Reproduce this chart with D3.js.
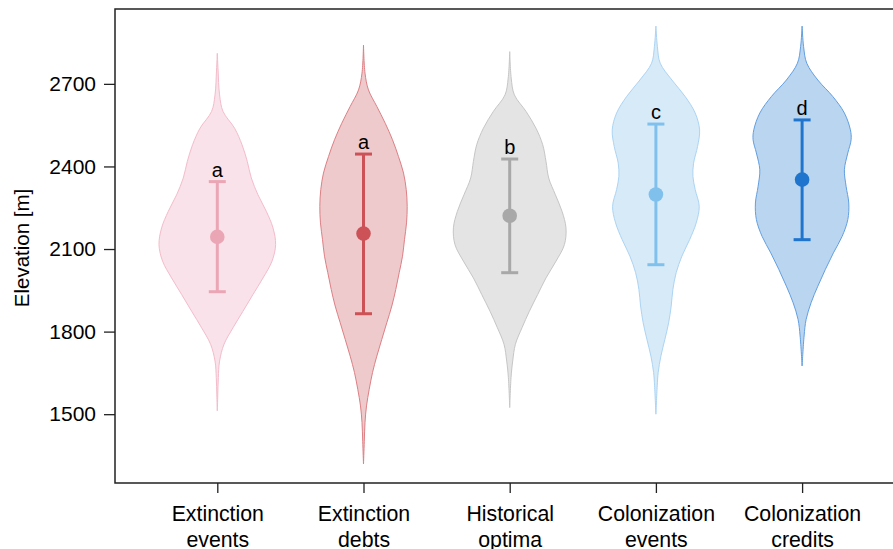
<!DOCTYPE html>
<html>
<head>
<meta charset="utf-8">
<script src="https://cdn.jsdelivr.net/npm/d3@7/dist/d3.min.js"></script>
<style>
  html, body { margin: 0; padding: 0; background: #fff; }
  svg { display: block; font-family: "Liberation Sans", Arial, Helvetica, sans-serif; }
</style>
</head>
<body>
<svg id="chart" width="893" height="549"></svg>
<script>
// ---------- data ----------
const categories = ["Extinction events", "Extinction debts", "Historical optima", "Colonization events", "Colonization credits"];
const categoryLines = [["Extinction", "events"], ["Extinction", "debts"], ["Historical", "optima"], ["Colonization", "events"], ["Colonization", "credits"]];
const letters = ["a", "a", "b", "c", "d"];
const means = [2144, 2156, 2221, 2298, 2352];
const ciLow = [1945, 1865, 2014, 2043, 2134];
const ciHigh = [2345, 2445, 2427, 2554, 2569];
const yTicks = [1500, 1800, 2100, 2400, 2700];

// violin density profiles (elevation, relative density)
const elevExtEvents = [2811, 2750, 2660, 2600, 2539, 2479, 2418, 2358, 2297, 2237, 2177, 2116, 2056, 1995, 1935, 1874, 1814, 1754, 1693, 1633, 1570, 1512];
const densExtEvents = [0, .013, .038, .095, .288, .412, .5, .567, .678, .817, .928, .972, .912, .762, .595, .428, .262, .112, .038, .017, .008, 0];

const elevExtDebts = [2841, 2739, 2678, 2618, 2557, 2497, 2436, 2376, 2316, 2255, 2195, 2134, 2074, 2014, 1953, 1893, 1832, 1772, 1711, 1651, 1590, 1530, 1470, 1400, 1319];
const densExtDebts = [0, .025, .083, .222, .362, .483, .583, .667, .712, .728, .717, .683, .65, .595, .538, .472, .388, .305, .222, .15, .095, .05, .025, .013, 0];

const elevHistOpt = [2817, 2721, 2660, 2600, 2539, 2479, 2418, 2358, 2297, 2237, 2177, 2116, 2056, 1995, 1935, 1874, 1814, 1754, 1693, 1633, 1524];
const densHistOpt = [0, .025, .078, .272, .438, .55, .605, .65, .762, .872, .938, .912, .772, .605, .467, .328, .205, .095, .05, .022, 0];

const elevColEvents = [2910, 2835, 2775, 2714, 2654, 2594, 2533, 2473, 2412, 2364, 2316, 2255, 2195, 2134, 2074, 2014, 1953, 1893, 1832, 1772, 1711, 1651, 1603, 1500];
const densColEvents = [0, .025, .072, .267, .488, .655, .728, .695, .628, .617, .655, .722, .672, .562, .433, .338, .283, .255, .212, .15, .083, .038, .022, 0];

const elevColCredits = [2910, 2835, 2775, 2714, 2654, 2594, 2533, 2497, 2449, 2388, 2328, 2267, 2207, 2146, 2086, 2026, 1965, 1905, 1844, 1784, 1675];
const densColCredits = [0, .025, .078, .262, .512, .705, .805, .817, .762, .705, .733, .778, .762, .667, .522, .388, .262, .15, .067, .033, 0];

const profileElev = [elevExtEvents, elevExtDebts, elevHistOpt, elevColEvents, elevColCredits];
const profileDens = [densExtEvents, densExtDebts, densHistOpt, densColEvents, densColCredits];

// styles
const fillColors = ["#f9e2e9", "#efcacc", "#e4e4e4", "#d7eaf8", "#bad5ef"];
const strokeColors = ["#f3bccb", "#dc8085", "#c6c6c6", "#acd4f3", "#629fe0"];
const markColors = ["#eba6b6", "#cc5257", "#a8a8a8", "#80c0ec", "#1f74cd"];

// ---------- layout ----------
const mLeft = 115, mTop = 9, mBottom = 483, mRight = 905;

const svg = d3.select("#chart");

const y = d3.scaleLinear().domain([1250, 2972]).range([mBottom, mTop]);
const x = d3.scalePoint().domain(categories).range([217.3, 802.1]);
const w = d3.scaleLinear().domain([0, 1]).range([0, 60]);

// violins
categories.forEach((c, i) => {
  const cx = x(c);
  const pts = profileElev[i].map((e, k) => ({ e, d: profileDens[i][k] }));
  const area = d3.area()
    .y(d => y(d.e))
    .x0(d => cx - w(d.d))
    .x1(d => cx + w(d.d))
    .curve(d3.curveCatmullRom);
  svg.append("path")
    .attr("d", area(pts))
    .attr("fill", fillColors[i])
    .attr("stroke", strokeColors[i])
    .attr("stroke-width", 1);
});

// error bars
const capHalf = 8.5;
categories.forEach((c, i) => {
  const cx = x(c);
  const g = svg.append("g").attr("stroke", markColors[i]).attr("stroke-width", 3);
  g.append("line").attr("x1", cx).attr("x2", cx).attr("y1", y(ciLow[i])).attr("y2", y(ciHigh[i]));
  g.append("line").attr("x1", cx - capHalf).attr("x2", cx + capHalf).attr("y1", y(ciLow[i])).attr("y2", y(ciLow[i]));
  g.append("line").attr("x1", cx - capHalf).attr("x2", cx + capHalf).attr("y1", y(ciHigh[i])).attr("y2", y(ciHigh[i]));
  svg.append("circle").attr("cx", cx).attr("cy", y(means[i])).attr("r", 7.3).attr("fill", markColors[i]);
  svg.append("text")
    .attr("x", cx).attr("y", y(ciHigh[i]) - 5)
    .attr("text-anchor", "middle")
    .attr("font-size", 20)
    .attr("fill", "#000")
    .text(letters[i]);
});

// axes
const yAxis = d3.axisLeft(y).tickValues(yTicks).tickFormat(d3.format("d")).tickSize(11).tickPadding(8).tickSizeOuter(0);
const gy = svg.append("g").attr("transform", `translate(${mLeft},0)`).call(yAxis);
gy.select(".domain").remove();
gy.selectAll(".tick line").attr("stroke", "#222").attr("stroke-width", 1.3);
gy.selectAll(".tick text").attr("font-size", 21).attr("fill", "#000").attr("font-family", "Liberation Sans, Arial, sans-serif");

const xAxis = d3.axisBottom(x).tickSize(10).tickFormat("");
const gx = svg.append("g").attr("transform", `translate(0,${mBottom})`).call(xAxis);
gx.select(".domain").remove();
gx.selectAll(".tick line").attr("stroke", "#222").attr("stroke-width", 1.3);
gx.selectAll(".tick").each(function (d, i) {
  const t = d3.select(this).append("text")
    .attr("text-anchor", "middle")
    .attr("font-size", 21.3)
    .attr("fill", "#000");
  categoryLines[i].forEach((ln, k) => {
    t.append("tspan").attr("x", 0).attr("y", 38 + k * 26).text(ln);
  });
});

// box (left, top, bottom)
svg.append("path")
  .attr("d", `M${mRight},${mTop}H${mLeft}V${mBottom}H${mRight}`)
  .attr("fill", "none")
  .attr("stroke", "#222")
  .attr("stroke-width", 1.5);

// y title
svg.append("text")
  .attr("transform", `translate(29,${(mTop + mBottom) / 2 + 2}) rotate(-90)`)
  .attr("text-anchor", "middle")
  .attr("font-size", 20.5)
  .attr("fill", "#000")
  .text("Elevation [m]");
</script>
</body>
</html>
